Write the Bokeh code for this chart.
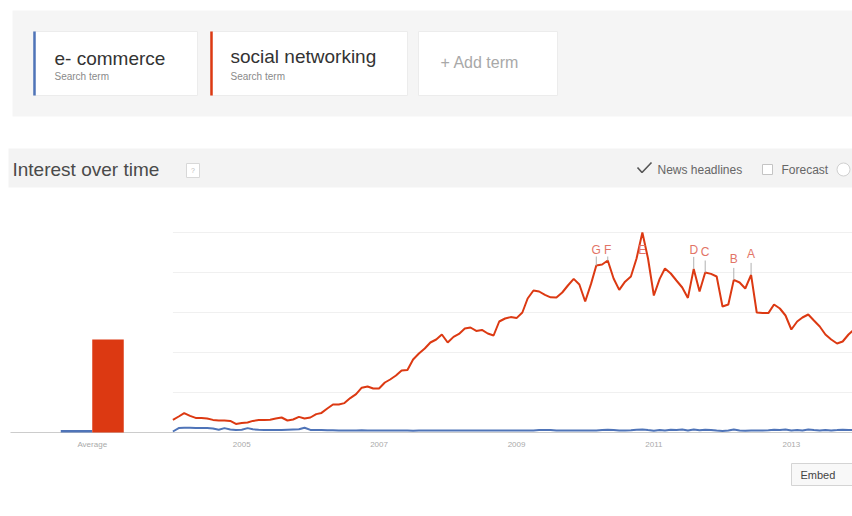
from datetime import datetime, timedelta
from bokeh.plotting import figure
from bokeh.models import Range1d
from bokeh.embed import file_html
from bokeh.resources import INLINE
from bokeh.core.properties import value

# ---------------- data ----------------
terms = ["e- commerce", "social networking"]
term_colors = ["#4f74b8", "#dc3912"]
term_subtitle = "Search term"
add_term_label = "+ Add term"
section_title = "Interest over time"
news_label = "News headlines"
forecast_label = "Forecast"
embed_label = "Embed"

avg_label = "Average"
avg_values = [1.3, 46.5]          # e- commerce, social networking

start_year = 2004                 # monthly series from Jan 2004
social = [6.3, 8, 9.7, 8.3, 7.3, 7.2, 7, 6.3, 6, 6,
          5.8, 4.3, 4.8, 5, 5.8, 6.2, 6.3, 6.4, 7, 7.5,
          6, 6.5, 7.8, 7, 7.5, 9.2, 9.8, 12, 14, 14,
          14.7, 17.2, 19.2, 22.4, 23, 22, 22, 25, 26.5, 28.5,
          31, 31.3, 36.5, 39.5, 42, 45, 46.5, 49, 45, 47.8,
          49.3, 52, 52.5, 50.8, 51.3, 49.5, 48.5, 55.5, 57, 57.7,
          57.2, 60, 67, 71, 70.5, 68.8, 67.6, 67.5, 70, 73.5,
          76.8, 74, 65.5, 74.3, 83.5, 84, 86, 77, 71.3, 75.4,
          78, 87, 100, 87, 68.5, 76.8, 82, 79.5, 76, 72.5,
          67.3, 81.8, 70.5, 80, 79.3, 78, 63, 64, 76.3, 75,
          72, 78.8, 60, 59.7, 59.7, 64, 62, 58.5, 51.5, 55.5,
          57.5, 59, 56, 53, 49, 46.5, 44.5, 45.5, 49, 51.5]
ecommerce = [0.5, 2.2, 2.4, 2.4, 2.3, 2.3, 2.3, 2.0, 1.4, 2.2,
             1.5, 1.2, 1.4, 2.2, 1.6, 1.4, 1.3, 1.3, 1.2, 1.3,
             1.4, 1.5, 1.6, 2.4, 1.3, 1.2, 1.2, 1.1, 1.1, 1.0,
             1.0, 1.0, 1.0, 1.1, 1.0, 1.0, 1.0, 1.0, 1.0, 1.0,
             1.0, 1.0, 0.9, 1.0, 1.0, 1.0, 1.0, 1.0, 1.0, 1.0,
             1.0, 1.0, 1.0, 1.0, 1.0, 1.0, 1.0, 1.0, 1.0, 1.0,
             1.0, 1.0, 1.0, 1.0, 1.2, 1.3, 1.2, 1.0, 1.0, 1.0,
             1.0, 1.0, 1.0, 1.0, 1.0, 1.2, 1.4, 1.2, 1.0, 1.0,
             1.1, 1.4, 1.5, 1.2, 0.9, 1.3, 1.0, 1.4, 1.2, 1.5,
             1.0, 1.5, 1.1, 1.4, 1.2, 1.0, 0.8, 1.0, 1.5, 1.0,
             0.9, 1.0, 1.0, 1.0, 1.1, 1.4, 1.2, 1.5, 1.0, 1.3,
             1.0, 1.5, 1.2, 1.0, 1.3, 1.0, 1.2, 1.4, 1.2, 1.3]
year_ticks = [2005, 2007, 2009, 2011, 2013]
grid_values = [20, 40, 60, 80, 100]
event_letters = ["A", "B", "C", "D", "E", "F", "G"]
event_months = [101, 98, 93, 91, 82, 76, 74]   # index into monthly series

months = [datetime(start_year + i // 12, 1 + i % 12, 1) for i in range(len(social))]

# ---------------- figure / scales ----------------
W, H = 852, 512
FONT = value("Liberation Sans")
px_per_day = 68.7 / 365.25
x0_page = 172.4                                   # page x of Jan 2004
t_start = datetime(start_year, 1, 1) - timedelta(days=x0_page / px_per_day)
t_end = t_start + timedelta(days=W / px_per_day)
base_y = 432                                      # page y of value 0
px_per_unit = 2.0

p = figure(width=W, height=H, output_backend="svg", toolbar_location=None,
           x_axis_type="datetime",
           x_range=Range1d(t_start, t_end),
           y_range=Range1d((base_y - H) / px_per_unit, base_y / px_per_unit),
           min_border=0, min_border_left=0, min_border_right=0,
           min_border_top=0, min_border_bottom=0)
p.axis.visible = False
p.grid.visible = False
p.outline_line_color = None
p.background_fill_color = "white"
p.border_fill_color = "white"

# page-pixel ranges for the interface decorations
p.extra_x_ranges["px"] = Range1d(0, W)
p.extra_y_ranges["py"] = Range1d(H, 0)
# range for the "Average" bars (bar i centred at page x 76 + 31.5*i)
bw = 31.5
p.extra_x_ranges["avg"] = Range1d(-76 / bw, (W - 76) / bw)

PX = dict(x_range_name="px", y_range_name="py")

# ---------------- header: search terms ----------------
p.quad(left=[12], right=[852], top=[10], bottom=[116], fill_color="#f5f5f5",
       line_color=None, **PX)
p.quad(left=[33, 210, 418], right=[197, 407, 557], top=[31, 31, 31],
       bottom=[95, 95, 95], fill_color="white", line_color="#ececec", **PX)
p.segment(x0=[34, 211], x1=[34, 211], y0=[31, 31], y1=[95, 95],
          line_color=term_colors, line_width=2.5, **PX)
p.text(x=[54, 230], y=[58, 56], text=terms, text_font=FONT, text_font_size="19px",
       text_color="#333333", text_baseline="middle", **PX)
p.text(x=[54, 230], y=[76, 76], text=[term_subtitle, term_subtitle], text_font=FONT,
       text_font_size="10px", text_color="#8a8a8a", text_baseline="middle", **PX)
p.text(x=[440], y=[62], text=[add_term_label], text_font=FONT, text_font_size="16px",
       text_color="#a8a8a8", text_baseline="middle", **PX)

# ---------------- section bar ----------------
p.quad(left=[8], right=[852], top=[148], bottom=[187], fill_color="#f3f3f3",
       line_color=None, **PX)
p.text(x=[12], y=[169], text=[section_title], text_font=FONT, text_font_size="19px",
       text_color="#4a4a4a", text_baseline="middle", **PX)
p.quad(left=[186], right=[199], top=[163], bottom=[177], fill_color="white",
       line_color="#d8d8d8", **PX)
p.text(x=[192.5], y=[170], text=["?"], text_font=FONT, text_font_size="7px",
       text_color="#bbbbbb", text_align="center", text_baseline="middle", **PX)
p.line(x=[637, 641.5, 651], y=[167, 172, 162], line_color="#555555", line_width=1.6, **PX)
p.text(x=[657], y=[169], text=[news_label], text_font=FONT, text_font_size="12px",
       text_color="#666666", text_baseline="middle", **PX)
p.quad(left=[762], right=[772], top=[164], bottom=[174], fill_color="white",
       line_color="#c4c4c4", **PX)
p.text(x=[781], y=[169], text=[forecast_label], text_font=FONT, text_font_size="12px",
       text_color="#666666", text_baseline="middle", **PX)
p.scatter(x=[843], y=[169], size=13, marker="circle", fill_color="white",
          line_color="#d0d0d0", **PX)

# ---------------- chart ----------------
# gridlines
p.segment(x0=[months[0]] * len(grid_values), x1=[t_end] * len(grid_values),
          y0=grid_values, y1=grid_values, line_color="#f0f0f0", line_width=1)
# baseline
p.segment(x0=[10], x1=[852], y0=[0], y1=[0], line_color="#cccccc", line_width=1.2,
          x_range_name="px")

# average bars
p.vbar(x=[0, 1], top=avg_values, bottom=0, width=1.0, fill_color=term_colors,
       line_color=None, x_range_name="avg")
p.text(x=[0.5], y=[-6], text=[avg_label], text_font=FONT, text_font_size="8px",
       text_color="#aaaaaa", text_align="center", text_baseline="middle",
       x_range_name="avg")

# time series
p.line(x=months, y=ecommerce, line_color=term_colors[0], line_width=2)
p.line(x=months, y=social, line_color=term_colors[1], line_width=2)

# news-headline markers
ev_x = [months[m] for m in event_months]
ev_v = [social[m] for m in event_months]
ev_bottom = [min(v + 7, 88) for v in ev_v]
ev_stub_top = [max(min(v + 6, b), v) for v, b in zip(ev_v, ev_bottom)]
p.segment(x0=ev_x, x1=ev_x, y0=ev_v, y1=ev_stub_top, line_color="#b0b0b0", line_width=1)
p.text(x=ev_x, y=ev_bottom, text=event_letters, text_font=FONT, text_font_size="12px",
       text_color="#e27466", text_align="center", text_baseline="bottom")

# year labels
p.text(x=[datetime(y, 1, 1) for y in year_ticks], y=[-6] * len(year_ticks),
       text=[str(y) for y in year_ticks], text_font=FONT, text_font_size="8px",
       text_color="#aaaaaa", text_align="center", text_baseline="middle")

# ---------------- embed button ----------------
p.quad(left=[791], right=[856], top=[463], bottom=[485], fill_color="#f8f8f8",
       line_color="#d4d4d4", **PX)
p.text(x=[800], y=[474], text=[embed_label], text_font=FONT, text_font_size="11px",
       text_color="#444444", text_baseline="middle", **PX)

open("out.html", "w").write(file_html(p, INLINE))
